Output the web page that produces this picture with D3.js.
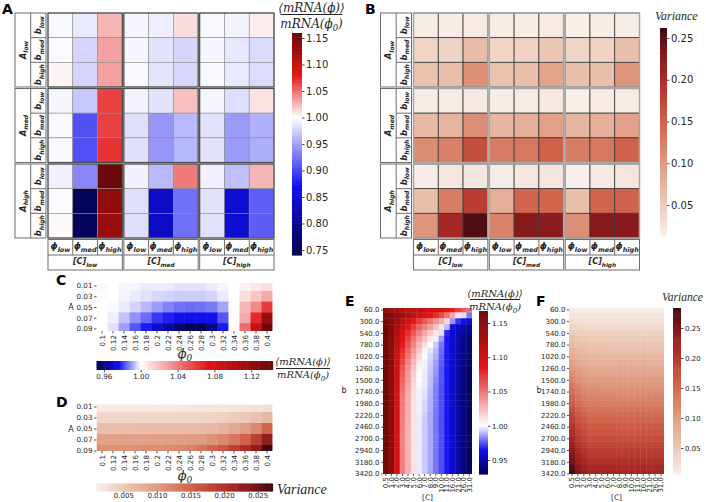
<!DOCTYPE html>
<html><head><meta charset="utf-8">
<script src="https://cdn.jsdelivr.net/npm/d3@7"></script>
<style>body{margin:0;background:#fff}svg{display:block}</style>
</head><body><svg id="c" width="706" height="502"></svg>
<script>
// ---------------- DATA ----------------
const A_levels = ["low","med","high"];
const b_levels = ["low","med","high"];
const C_levels = ["low","med","high"];
const phi_levels = ["low","med","high"];

// Panel A: rows = A(low,med,high) x b(low,med,high); cols = [C](low,med,high) x phi(low,med,high)
const ratioA = [
 [0.996,0.988,1.025, 0.995,0.991,1.012, 0.996,0.994,1.006],
 [0.998,0.977,1.032, 0.995,0.985,0.978, 0.995,0.987,0.980],
 [1.003,0.977,1.032, 0.996,0.986,0.979, 0.996,0.988,0.981],
 [0.995,0.970,1.065, 0.994,0.985,1.022, 0.995,0.982,1.010],
 [0.997,0.905,1.065, 0.983,0.943,0.962, 0.984,0.946,0.957],
 [0.997,0.905,1.070, 0.983,0.943,0.961, 0.984,0.946,0.956],
 [0.992,0.935,1.159, 0.993,0.962,1.045, 0.993,0.966,1.025],
 [0.998,0.752,1.135, 0.983,0.835,0.923, 0.984,0.845,0.913],
 [1.002,0.752,1.130, 0.983,0.835,0.922, 0.984,0.845,0.912]
];
// Panel B: variance, same layout
const varB = [
 [0.016,0.017,0.019, 0.016,0.017,0.019, 0.015,0.016,0.018],
 [0.040,0.042,0.066, 0.040,0.043,0.055, 0.040,0.041,0.062],
 [0.058,0.063,0.108, 0.058,0.064,0.090, 0.062,0.062,0.105],
 [0.016,0.019,0.021, 0.016,0.019,0.020, 0.015,0.018,0.019],
 [0.068,0.074,0.110, 0.072,0.080,0.095, 0.072,0.078,0.095],
 [0.112,0.122,0.165, 0.125,0.130,0.150, 0.125,0.130,0.148],
 [0.016,0.022,0.022, 0.016,0.022,0.023, 0.015,0.021,0.024],
 [0.062,0.125,0.182, 0.080,0.145,0.145, 0.062,0.145,0.148],
 [0.105,0.205,0.255, 0.120,0.227,0.225, 0.110,0.227,0.227]
];

// Panels C/D
const A_vals = ["0.01","0.03","0.05","0.07","0.09"];
const phi0_vals = ["0.1","0.12","0.14","0.16","0.18","0.2","0.22","0.24","0.26","0.28","0.3","0.32","0.34","0.36","0.38","0.4"];
const ratioC = [
 [1.002,1.000,0.999,0.999,0.998,0.998,0.998,0.997,0.997,0.997,0.998,0.999,1.000,1.004,1.007,1.010],
 [1.001,1.000,0.999,0.998,0.997,0.996,0.9955,0.995,0.995,0.995,0.996,0.998,1.000,1.010,1.018,1.026],
 [1.000,0.9995,0.998,0.9955,0.993,0.990,0.9875,0.9855,0.985,0.9855,0.9865,0.991,1.000,1.022,1.036,1.060],
 [1.000,0.9985,0.994,0.989,0.985,0.980,0.9775,0.9755,0.9745,0.9745,0.9755,0.983,1.000,1.026,1.066,1.115],
 [1.000,0.997,0.9905,0.983,0.977,0.9705,0.964,0.9575,0.953,0.9535,0.9605,0.977,1.000,1.045,1.090,1.143]
];
const varD = [
 [0.0017,0.0017,0.0017,0.0017,0.0018,0.0018,0.0018,0.0018,0.0019,0.0019,0.0020,0.0020,0.0021,0.0022,0.0024,0.0027],
 [0.0036,0.0036,0.0036,0.0036,0.0036,0.0036,0.0036,0.0037,0.0037,0.0038,0.0040,0.0042,0.0046,0.0050,0.0057,0.0068],
 [0.0062,0.0062,0.0062,0.0062,0.0063,0.0063,0.0063,0.0064,0.0065,0.0066,0.0069,0.0074,0.0084,0.0097,0.0118,0.0150],
 [0.0094,0.0094,0.0094,0.0094,0.0095,0.0095,0.0096,0.0097,0.0099,0.0102,0.0108,0.0118,0.0132,0.0152,0.0185,0.0228],
 [0.0110,0.0110,0.0110,0.0111,0.0112,0.0113,0.0115,0.0118,0.0124,0.0134,0.0148,0.0165,0.0185,0.0205,0.0228,0.0270]
];

// Panels E/F
const b_vals = [60,180,300,420,540,660,780,900,1020,1140,1260,1380,1500,1620,1740,1860,1980,2100,2220,2340,2460,2580,2700,2820,2940,3060,3180,3300,3420];
const conc_vals = ["0.5","1.0","2.0","3.0","4.0","5.0","6.0","7.0","8.0","9.0","10.0","11.0","16.0","21.0","26.0","31.0"];
const ratioE = [
 [1.140,1.130,1.125,1.120,1.115,1.110,1.110,1.105,1.100,1.100,1.095,1.090,1.080,1.070,1.060,1.050],
 [1.160,1.150,1.140,1.130,1.120,1.110,1.100,1.095,1.085,1.075,1.065,1.050,1.030,1.010,0.995,0.980],
 [1.160,1.150,1.135,1.115,1.100,1.085,1.070,1.060,1.050,1.040,1.030,1.015,0.985,0.970,0.963,0.958],
 [1.165,1.148,1.125,1.105,1.085,1.070,1.055,1.045,1.035,1.022,1.010,0.990,0.962,0.955,0.950,0.945],
 [1.165,1.147,1.120,1.095,1.075,1.060,1.045,1.032,1.020,1.008,0.995,0.968,0.958,0.951,0.946,0.942],
 [1.165,1.146,1.115,1.088,1.068,1.050,1.035,1.022,1.008,0.998,0.985,0.966,0.957,0.950,0.944,0.940],
 [1.165,1.146,1.112,1.082,1.062,1.044,1.027,1.012,1.000,0.992,0.980,0.966,0.957,0.949,0.943,0.939],
 [1.165,1.146,1.108,1.077,1.056,1.037,1.020,1.004,0.996,0.990,0.978,0.966,0.956,0.949,0.942,0.938],
 [1.165,1.145,1.105,1.072,1.050,1.031,1.014,1.000,0.994,0.988,0.977,0.966,0.956,0.948,0.941,0.937],
 [1.165,1.145,1.103,1.067,1.045,1.026,1.009,0.998,0.993,0.986,0.976,0.966,0.956,0.948,0.941,0.936],
 [1.165,1.145,1.101,1.063,1.040,1.022,1.005,0.998,0.992,0.985,0.975,0.966,0.956,0.948,0.941,0.935],
 [1.165,1.145,1.100,1.058,1.037,1.018,1.002,0.997,0.991,0.984,0.975,0.966,0.956,0.948,0.940,0.935],
 [1.165,1.145,1.099,1.055,1.035,1.015,1.000,0.997,0.990,0.983,0.975,0.966,0.956,0.948,0.940,0.934],
 [1.165,1.145,1.098,1.052,1.033,1.013,0.999,0.997,0.990,0.982,0.974,0.966,0.956,0.948,0.940,0.934],
 [1.165,1.145,1.097,1.050,1.031,1.012,0.998,0.996,0.989,0.981,0.974,0.966,0.956,0.948,0.940,0.934],
 [1.165,1.145,1.096,1.048,1.030,1.011,0.998,0.995,0.988,0.981,0.974,0.966,0.956,0.948,0.940,0.934],
 [1.165,1.145,1.096,1.047,1.030,1.011,0.998,0.994,0.988,0.981,0.974,0.966,0.956,0.948,0.940,0.934],
 [1.165,1.145,1.096,1.047,1.029,1.011,0.998,0.994,0.988,0.980,0.974,0.966,0.956,0.948,0.940,0.934],
 [1.165,1.145,1.095,1.046,1.029,1.010,0.997,0.993,0.987,0.980,0.974,0.966,0.956,0.948,0.940,0.934],
 [1.165,1.145,1.095,1.045,1.028,1.010,0.997,0.992,0.987,0.980,0.974,0.966,0.956,0.948,0.940,0.934],
 [1.165,1.145,1.095,1.045,1.028,1.010,0.997,0.992,0.987,0.980,0.974,0.966,0.956,0.948,0.940,0.934],
 [1.165,1.145,1.095,1.045,1.028,1.010,0.997,0.992,0.987,0.980,0.974,0.966,0.956,0.948,0.940,0.934],
 [1.165,1.145,1.095,1.045,1.028,1.010,0.997,0.992,0.987,0.980,0.974,0.966,0.956,0.948,0.940,0.934],
 [1.165,1.145,1.095,1.045,1.028,1.010,0.997,0.992,0.987,0.980,0.974,0.966,0.956,0.948,0.940,0.934],
 [1.165,1.145,1.095,1.045,1.028,1.010,0.997,0.992,0.987,0.980,0.974,0.966,0.956,0.948,0.940,0.934],
 [1.165,1.145,1.095,1.045,1.028,1.010,0.997,0.992,0.987,0.980,0.974,0.966,0.956,0.948,0.940,0.934],
 [1.165,1.145,1.095,1.045,1.028,1.010,0.997,0.992,0.987,0.980,0.974,0.966,0.956,0.948,0.940,0.934],
 [1.165,1.145,1.095,1.045,1.028,1.010,0.997,0.992,0.987,0.980,0.974,0.966,0.956,0.948,0.940,0.934],
 [1.165,1.145,1.095,1.045,1.028,1.010,0.997,0.992,0.987,0.980,0.974,0.966,0.956,0.948,0.940,0.934]
];
const varF = [
 [0.009,0.008,0.008,0.008,0.008,0.008,0.008,0.008,0.008,0.008,0.008,0.008,0.008,0.008,0.008,0.008],
 [0.018,0.017,0.016,0.016,0.016,0.016,0.016,0.016,0.016,0.016,0.016,0.016,0.016,0.016,0.016,0.016],
 [0.027,0.025,0.024,0.023,0.023,0.023,0.023,0.023,0.023,0.023,0.023,0.023,0.023,0.023,0.023,0.023],
 [0.037,0.034,0.032,0.031,0.031,0.031,0.031,0.031,0.031,0.031,0.031,0.031,0.031,0.031,0.031,0.031],
 [0.047,0.043,0.041,0.039,0.039,0.039,0.039,0.039,0.039,0.039,0.039,0.039,0.039,0.039,0.039,0.039],
 [0.056,0.051,0.048,0.046,0.046,0.046,0.046,0.046,0.046,0.046,0.046,0.046,0.046,0.046,0.046,0.046],
 [0.066,0.059,0.056,0.054,0.054,0.054,0.054,0.054,0.054,0.054,0.054,0.054,0.054,0.054,0.054,0.054],
 [0.076,0.068,0.065,0.062,0.062,0.062,0.062,0.062,0.062,0.062,0.062,0.062,0.062,0.062,0.062,0.062],
 [0.086,0.077,0.073,0.070,0.070,0.070,0.070,0.070,0.070,0.070,0.070,0.070,0.070,0.070,0.070,0.070],
 [0.095,0.085,0.081,0.077,0.077,0.077,0.077,0.077,0.077,0.077,0.077,0.077,0.077,0.077,0.077,0.077],
 [0.105,0.094,0.089,0.085,0.085,0.085,0.085,0.085,0.085,0.085,0.085,0.085,0.085,0.085,0.085,0.085],
 [0.115,0.103,0.097,0.093,0.093,0.093,0.093,0.093,0.093,0.093,0.093,0.093,0.093,0.093,0.093,0.093],
 [0.124,0.111,0.105,0.100,0.100,0.100,0.100,0.100,0.100,0.100,0.100,0.100,0.100,0.100,0.100,0.100],
 [0.134,0.120,0.113,0.108,0.108,0.108,0.108,0.108,0.108,0.108,0.108,0.108,0.108,0.108,0.108,0.108],
 [0.144,0.129,0.122,0.116,0.116,0.116,0.116,0.116,0.116,0.116,0.116,0.116,0.116,0.116,0.116,0.116],
 [0.154,0.138,0.130,0.124,0.124,0.124,0.124,0.124,0.124,0.124,0.124,0.124,0.124,0.124,0.124,0.124],
 [0.163,0.145,0.137,0.131,0.131,0.131,0.131,0.131,0.131,0.131,0.131,0.131,0.131,0.131,0.131,0.131],
 [0.173,0.154,0.146,0.139,0.139,0.139,0.139,0.139,0.139,0.139,0.139,0.139,0.139,0.139,0.139,0.139],
 [0.183,0.163,0.154,0.147,0.147,0.147,0.147,0.147,0.147,0.147,0.147,0.147,0.147,0.147,0.147,0.147],
 [0.192,0.171,0.162,0.154,0.154,0.154,0.154,0.154,0.154,0.154,0.154,0.154,0.154,0.154,0.154,0.154],
 [0.202,0.180,0.170,0.162,0.162,0.162,0.162,0.162,0.162,0.162,0.162,0.162,0.162,0.162,0.162,0.162],
 [0.212,0.189,0.178,0.170,0.170,0.170,0.170,0.170,0.170,0.170,0.170,0.170,0.170,0.170,0.170,0.170],
 [0.221,0.197,0.186,0.177,0.177,0.177,0.177,0.177,0.177,0.177,0.177,0.177,0.177,0.177,0.177,0.177],
 [0.231,0.206,0.194,0.185,0.185,0.185,0.185,0.185,0.185,0.185,0.185,0.185,0.185,0.185,0.185,0.185],
 [0.241,0.215,0.203,0.193,0.193,0.193,0.193,0.193,0.193,0.193,0.193,0.193,0.193,0.193,0.193,0.193],
 [0.250,0.223,0.210,0.200,0.200,0.200,0.200,0.200,0.200,0.200,0.200,0.200,0.200,0.200,0.200,0.200],
 [0.260,0.231,0.218,0.208,0.208,0.208,0.208,0.208,0.208,0.208,0.208,0.208,0.208,0.208,0.208,0.208],
 [0.270,0.240,0.227,0.216,0.216,0.216,0.216,0.216,0.216,0.216,0.216,0.216,0.216,0.216,0.216,0.216],
 [0.280,0.249,0.235,0.224,0.224,0.224,0.224,0.224,0.224,0.224,0.224,0.224,0.224,0.224,0.224,0.224]
];

// ---------------- DRAWING ----------------
const svg = d3.select('#c');
svg.append('rect').attr('width',706).attr('height',502).attr('fill','#fff');
const SANS = "'DejaVu Sans', sans-serif", SERIF = "'DejaVu Serif', serif", LSERIF = "'Liberation Serif', serif";
const TXT = '#262626';

const seismic = d3.scaleLinear().domain([0,.25,.5,.75,1])
  .range(["#03024a","#1010f2","#ffffff","#e41616","#6c0808"]).clamp(true);
const amp = d3.scaleLinear().domain([0,.15,.35,.55,.75,.9,1])
  .range(["#f8efeb","#eccab8","#df9a80","#cf5f48","#ad2a26","#7a1418","#3c0912"]).clamp(true);
const divColor = (vmin,vmax)=>{const n=d3.scaleLinear().domain([vmin,1,vmax]).range([0,.5,1]).clamp(true);return v=>seismic(n(v));};
const seqColor = (vmin,vmax)=>{const n=d3.scaleLinear().domain([vmin,vmax]).range([0,1]).clamp(true);return v=>amp(n(v));};

function subLabel(g, cx, cy, main, sub, size, rotate, opts={}){
  const t = g.append('text')
    .attr('transform', `translate(${cx},${cy})` + (rotate ? ' rotate(-90)' : ''))
    .attr('text-anchor','middle').attr('y', size*0.3)
    .attr('font-family', opts.family || SANS)
    .attr('font-weight', opts.weight || 'bold')
    .attr('font-style','italic').attr('font-size', size).attr('fill', TXT);
  t.append('tspan').text(main);
  t.append('tspan').attr('dy', size*0.3).attr('font-size', size*0.72).text(sub);
  return t;
}

function panelLetter(txt, x, y){
  svg.append('text').attr('x',x).attr('y',y).attr('font-family',SANS).attr('font-weight','bold')
    .attr('font-size',14).attr('fill','#000').text(txt);
}

function fracLabel(cx, yNum, yLine, yDen, size, halfW){
  const g = svg.append('g').attr('font-family',SERIF).attr('font-style','italic').attr('font-size',size).attr('fill',TXT);
  g.append('text').attr('x',cx).attr('y',yNum).attr('text-anchor','middle').text('\u27E8mRNA(\u03D5)\u27E9');
  g.append('line').attr('x1',cx-halfW).attr('x2',cx+halfW).attr('y1',yLine).attr('y2',yLine).attr('stroke',TXT).attr('stroke-width',1);
  const d = g.append('text').attr('x',cx).attr('y',yDen).attr('text-anchor','middle');
  d.append('tspan').text('mRNA(\u03D5');
  d.append('tspan').attr('dy',size*0.25).attr('font-size',size*0.7).text('0');
  d.append('tspan').attr('dy',-size*0.25).text(')');
}

function varLabel(x, y, size){
  svg.append('text').attr('x',x).attr('y',y).attr('font-family',LSERIF).attr('font-style','italic')
    .attr('font-size',size).attr('fill',TXT).text('Variance');
}

function drawGrid(x0, data, color, st){
  const g = svg.append('g');
  const ox = d3.scaleBand().domain(C_levels).range([x0, x0+226]).paddingInner(0.02);
  const oy = d3.scaleBand().domain(A_levels).range([13, 238]).paddingInner(0.02);
  const ix = d3.scaleBand().domain(phi_levels).range([0, ox.bandwidth()]);
  const iy = d3.scaleBand().domain(b_levels).range([0, oy.bandwidth()]);
  const cells = data.flatMap((row,r)=>row.map((v,c)=>({v,
    A:A_levels[Math.floor(r/3)], b:b_levels[r%3], C:C_levels[Math.floor(c/3)], p:phi_levels[c%3]})));
  g.selectAll('rect.cell').data(cells).join('rect').attr('class','cell')
    .attr('x',d=>ox(d.C)+ix(d.p)).attr('y',d=>oy(d.A)+iy(d.b))
    .attr('width',ix.bandwidth()).attr('height',iy.bandwidth())
    .attr('fill',d=>color(d.v)).attr('stroke',st.cell).attr('stroke-width',st.cellW);
  A_levels.forEach(A=>C_levels.forEach(C=>{
    g.append('rect').attr('x',ox(C)).attr('y',oy(A)).attr('width',ox.bandwidth()).attr('height',oy.bandwidth())
      .attr('fill','none').attr('stroke',st.block).attr('stroke-width',st.blockW);
  }));
  const hs = '#6e6e6e';
  const hx0 = x0-33, hx1 = x0-17.3, hx2 = x0-2;
  A_levels.forEach(A=>{
    g.append('rect').attr('x',hx0).attr('y',oy(A)).attr('width',hx2-hx0).attr('height',oy.bandwidth())
      .attr('fill','#fff').attr('stroke',hs).attr('stroke-width',1);
    g.append('line').attr('x1',hx1).attr('x2',hx1).attr('y1',oy(A)).attr('y2',oy(A)+oy.bandwidth()).attr('stroke',hs);
    b_levels.forEach((b,i)=>{
      if(i>0) g.append('line').attr('x1',hx1).attr('x2',hx2).attr('y1',oy(A)+iy(b)).attr('y2',oy(A)+iy(b)).attr('stroke',hs);
      subLabel(g,(hx1+hx2)/2+0.5,oy(A)+iy(b)+iy.bandwidth()/2,'b',b,8.5,true);
    });
    subLabel(g,(hx0+hx1)/2+0.5,oy(A)+oy.bandwidth()/2,'A',A,8.5,true);
  });
  const y0 = 239.5, y1 = 255, y2 = 270;
  C_levels.forEach(C=>{
    g.append('rect').attr('x',ox(C)).attr('y',y0).attr('width',ox.bandwidth()).attr('height',y2-y0)
      .attr('fill','#fff').attr('stroke',hs);
    g.append('line').attr('x1',ox(C)).attr('x2',ox(C)+ox.bandwidth()).attr('y1',y1).attr('y2',y1).attr('stroke',hs);
    phi_levels.forEach((p,i)=>{
      if(i>0) g.append('line').attr('x1',ox(C)+ix(p)).attr('x2',ox(C)+ix(p)).attr('y1',y0).attr('y2',y1).attr('stroke',hs);
      subLabel(g,ox(C)+ix(p)+ix.bandwidth()/2,(y0+y1)/2-0.5,'\u03D5',p,9,false);
    });
    subLabel(g,ox(C)+ox.bandwidth()/2,(y1+y2)/2-0.5,'[C]',C,8,false);
  });
}

function styleAxis(ax, fs){
  ax.select('.domain').remove();
  ax.selectAll('text').attr('font-size',fs).attr('font-family',SANS).attr('fill',TXT);
  ax.selectAll('line').attr('stroke',TXT).attr('stroke-width',0.8);
}

function vColorbar(x, y0, y1, w, domain, color, ticks, fmt, fs){
  const s = d3.scaleLinear().domain(domain).range([y1, y0]);
  const n = 160, h = (y1-y0)/n;
  svg.append('g').selectAll('rect').data(d3.range(n)).join('rect')
    .attr('x',x).attr('y',i=>y0+i*h).attr('width',w).attr('height',h+0.6)
    .attr('fill',i=>color(s.invert(y0+(i+0.5)*h)));
  const ax = svg.append('g').attr('transform',`translate(${x+w},0)`)
    .call(d3.axisRight(s).tickValues(ticks).tickFormat(d3.format(fmt)).tickSize(2.5).tickPadding(1.5));
  styleAxis(ax, fs);
}
function hColorbar(x0, x1, y, h, domain, color, ticks, fmt, fs, tick, pad){
  const s = d3.scaleLinear().domain(domain).range([x0, x1]);
  const n = 160, w = (x1-x0)/n;
  svg.append('g').selectAll('rect').data(d3.range(n)).join('rect')
    .attr('x',i=>x0+i*w).attr('y',y).attr('width',w+0.6).attr('height',h)
    .attr('fill',i=>color(s.invert(x0+(i+0.5)*w)));
  const ax = svg.append('g').attr('transform',`translate(0,${y+h})`)
    .call(d3.axisBottom(s).tickValues(ticks).tickFormat(d3.format(fmt)).tickSize(tick).tickPadding(pad));
  styleAxis(ax, fs);
}

function rotateXTicks(ax){
  ax.selectAll('.tick text').attr('transform','rotate(-90)').attr('text-anchor','end')
    .attr('x',-4).attr('y',0).attr('dy','0.35em');
}

function drawStrip(id, data, color, yTop, yBot, clipTop, clipBot){
  const x = d3.scaleBand().domain(phi0_vals).range([96.5, 272.5]);
  const y = d3.scalePoint().domain(A_vals).range([yTop, yBot]);
  const st = y.step();
  svg.append('clipPath').attr('id',id).append('rect').attr('x',96.5).attr('y',clipTop).attr('width',176).attr('height',clipBot-clipTop);
  const cells = data.flatMap((row,r)=>row.map((v,c)=>({v,a:A_vals[r],p:phi0_vals[c]})));
  svg.append('g').attr('clip-path',`url(#${id})`).selectAll('rect').data(cells).join('rect')
    .attr('x',d=>x(d.p)).attr('y',d=>y(d.a)-st/2).attr('width',x.bandwidth()+0.4).attr('height',st+0.4)
    .attr('fill',d=>color(d.v));
  const ay = svg.append('g').attr('transform','translate(96.5,0)').call(d3.axisLeft(y).tickSize(2.5).tickPadding(1.5));
  styleAxis(ay, 7.2);
  const ax = svg.append('g').attr('transform',`translate(0,${clipBot})`).call(d3.axisBottom(x).tickSize(2.5));
  styleAxis(ax, 7.2); rotateXTicks(ax);
  svg.append('text').attr('x',71).attr('y',(yTop+yBot)/2+3).attr('text-anchor','middle')
    .attr('font-family',SANS).attr('font-size',8).attr('fill',TXT).text('A');
}

function phiLabel(cx, y){
  const t = svg.append('text').attr('x',cx).attr('y',y).attr('text-anchor','middle')
    .attr('font-family',SERIF).attr('font-style','italic').attr('font-size',13).attr('fill',TXT);
  t.append('tspan').text('\u03D5');
  t.append('tspan').attr('dy',3).attr('font-size',9).text('0');
}

function drawBig(id, x0, x1, data, color, bLabelX){
  const x = d3.scaleBand().domain(conc_vals).range([x0, x1]);
  const y = d3.scalePoint().domain(b_vals).range([309.5, 473.5]);
  const st = y.step();
  svg.append('clipPath').attr('id',id).append('rect').attr('x',x0).attr('y',308).attr('width',x1-x0).attr('height',166);
  const cells = data.flatMap((row,r)=>row.map((v,c)=>({v,b:b_vals[r],k:conc_vals[c]})));
  svg.append('g').attr('clip-path',`url(#${id})`).selectAll('rect').data(cells).join('rect')
    .attr('x',d=>x(d.k)).attr('y',d=>y(d.b)-st/2).attr('width',x.bandwidth()+0.4).attr('height',st+0.4)
    .attr('fill',d=>color(d.v));
  const ay = svg.append('g').attr('transform',`translate(${x0},0)`)
    .call(d3.axisLeft(y).tickValues(b_vals.filter((d,i)=>i%2===0)).tickFormat(d=>d.toFixed(1)).tickSize(2).tickPadding(1.5));
  styleAxis(ay, 7);
  const ax = svg.append('g').attr('transform','translate(0,474)').call(d3.axisBottom(x).tickSize(2));
  styleAxis(ax, 7); rotateXTicks(ax); ax.selectAll('.tick text').attr('x',-3);
  svg.append('text').attr('x',(x0+x1)/2).attr('y',500).attr('text-anchor','middle')
    .attr('font-family',SANS).attr('font-size',7.5).attr('fill',TXT).text('[C]');
  svg.append('text').attr('x',bLabelX).attr('y',393).attr('text-anchor','middle')
    .attr('font-family',SANS).attr('font-size',8).attr('fill',TXT).text('b');
}

// Panel A
const colA = divColor(0.7406, 1.1594);
drawGrid(48, ratioA, colA, {cell:'#8c8c8c', cellW:0.6, block:'#4d4d4d', blockW:1.2});
panelLetter('A', 2, 13.5);
vColorbar(292, 33, 255, 10, [0.7406,1.1594], colA, [0.75,0.8,0.85,0.9,0.95,1.0,1.05,1.1,1.15], '.2f', 10);
fracLabel(311.5, 11.5, 14.5, 27.5, 12, 31);

// Panel B
const colB = seqColor(0.0141, 0.262);
drawGrid(413.5, varB, colB, {cell:'#3b3b3b', cellW:0.8, block:'#a6a6a6', blockW:1.5});
panelLetter('B', 365, 13.5);
vColorbar(660, 28, 235, 7, [0.0141,0.262], colB, [0.05,0.1,0.15,0.2,0.25], '.2f', 10);
varLabel(655, 20, 12);

// Panel C
const colC = divColor(0.952, 1.143);
drawStrip('clipC', ratioC, colC, 285.5, 328.5, 283, 331);
panelLetter('C', 56, 285);
phiLabel(185, 358);
hColorbar(96.5, 272.5, 361, 9, [0.952,1.143], colC, [0.96,1.0,1.04,1.08,1.12], '.2f', 7.2, 2.5, 1.5);
fracLabel(303, 365, 368.5, 378, 10, 27);

// Panel D
const colD = seqColor(0.001, 0.0272);
drawStrip('clipD', varD, colD, 406.5, 450.5, 404.5, 451);
panelLetter('D', 56, 407);
phiLabel(185, 480);
hColorbar(96.5, 272.5, 483.5, 8, [0.001,0.0272], colD, [0.005,0.01,0.015,0.02,0.025], '.3f', 7, 1.5, 0.5);
varLabel(277, 494, 14);

// Panel E
const colE = divColor(0.9296, 1.1675);
drawBig('clipE', 383, 472, ratioE, colE, 344);
panelLetter('E', 345, 306);
vColorbar(479, 311, 474, 9, [0.9296,1.1675], colE, [0.95,1.0,1.05,1.1,1.15], '.2f', 7);
fracLabel(495, 296.5, 299.5, 310, 10, 25);

// Panel F
const colF = seqColor(0.0067, 0.2833);
drawBig('clipF', 569, 664, varF, colF, 539);
panelLetter('F', 536, 306);
vColorbar(673, 308, 474, 8, [0.0067,0.2833], colF, [0.05,0.1,0.15,0.2,0.25], '.2f', 7);
varLabel(662, 301, 11.5);
</script>
</body></html>
